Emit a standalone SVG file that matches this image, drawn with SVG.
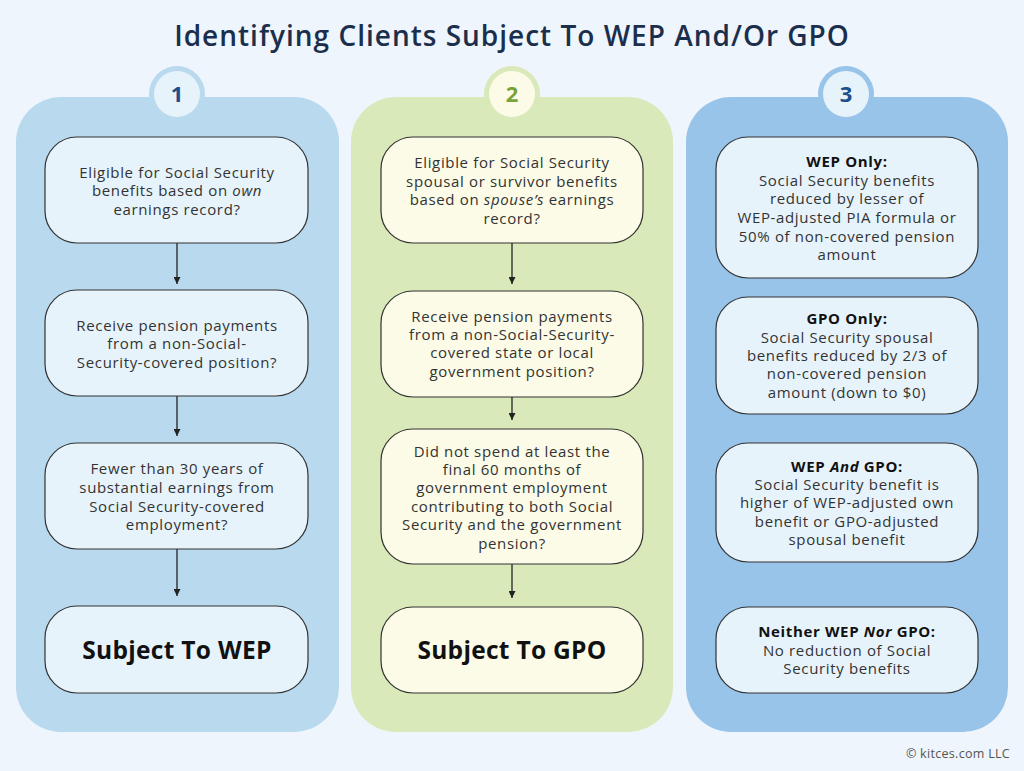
<svg xmlns="http://www.w3.org/2000/svg" width="1024" height="771" viewBox="0 0 1024 771">
<style>
.t{font-family:"Open Sans","Noto Sans",sans-serif;font-size:15px;letter-spacing:0.65px;fill:#333;text-anchor:middle}
.b{font-weight:700;fill:#111}
.big{font-family:"Open Sans","Noto Sans",sans-serif;font-size:24.5px;letter-spacing:0.3px;font-weight:700;fill:#111;text-anchor:middle}
.box1{fill:#e7f3fb;stroke:#333;stroke-width:1.2}
.box2{fill:#fbfbe7;stroke:#333;stroke-width:1.2}
.num{font-family:"Open Sans","Noto Sans",sans-serif;font-size:22px;font-weight:700;text-anchor:middle}
.con{stroke:#222;stroke-width:1.3;fill:none;marker-end:url(#ah)}
</style>
<defs>
<marker id="ah" viewBox="0 0 10 10" refX="10" refY="5" markerWidth="7" markerHeight="7" markerUnits="userSpaceOnUse" orient="auto"><path d="M0,0L10,5L0,10z" fill="#222"/></marker>
</defs>
<rect x="0" y="0" width="1024" height="771" fill="#eef5fc"/>
<text x="512" y="46" style="font-family:'Open Sans','Noto Sans',sans-serif;font-size:28px;letter-spacing:1px;font-weight:600;fill:#1b2f4d;text-anchor:middle">Identifying Clients Subject To WEP And/Or GPO</text>

<g id="panel1">
<rect x="16" y="97" width="323" height="635" rx="45" fill="#b8d9ee"/>
<circle cx="177" cy="94" r="28" fill="#b8d9ee"/>
<circle cx="177" cy="94" r="23" fill="#e7f3fb"/>
<text x="177" y="102" class="num" fill="#1d4e89">1</text>
</g>
<g id="panel2">
<rect x="351" y="97" width="322" height="635" rx="45" fill="#d9e9b9"/>
<circle cx="512" cy="94" r="28" fill="#d9e9b9"/>
<circle cx="512" cy="94" r="23" fill="#fbfbe7"/>
<text x="512" y="102" class="num" fill="#78a33a">2</text>
</g>
<g id="panel3">
<rect x="686" y="97" width="322" height="635" rx="45" fill="#98c4e9"/>
<circle cx="846" cy="94" r="28" fill="#98c4e9"/>
<circle cx="846" cy="94" r="23" fill="#e7f3fb"/>
<text x="846" y="102" class="num" fill="#1d4e89">3</text>
</g>

<g id="connectors">
<path class="con" d="M177,243V284"/>
<path class="con" d="M177,396V436"/>
<path class="con" d="M177,549V596"/>
<path class="con" d="M512,243V284"/>
<path class="con" d="M512,397V420"/>
<path class="con" d="M512,564V598"/>
</g>

<g id="n1a">
<rect class="box1" x="45" y="137" width="263" height="106" rx="32"/>
<text class="t"><tspan x="177" y="178">Eligible for Social Security</tspan><tspan x="177" y="196">benefits based on <tspan font-style="italic">own</tspan></tspan><tspan x="177" y="215">earnings record?</tspan></text>
</g>
<g id="n1b">
<rect class="box1" x="45" y="290" width="263" height="106" rx="32"/>
<text class="t"><tspan x="177" y="331">Receive pension payments</tspan><tspan x="177" y="349">from a non-Social-</tspan><tspan x="177" y="368">Security-covered position?</tspan></text>
</g>
<g id="n1c">
<rect class="box1" x="45" y="443" width="263" height="106" rx="32"/>
<text class="t"><tspan x="177" y="474">Fewer than 30 years of</tspan><tspan x="177" y="493">substantial earnings from</tspan><tspan x="177" y="512">Social Security-covered</tspan><tspan x="177" y="530">employment?</tspan></text>
</g>
<g id="n1d">
<rect class="box1" x="45" y="606" width="263" height="87" rx="32"/>
<text class="big" x="177" y="659">Subject To WEP</text>
</g>

<g id="n2a">
<rect class="box2" x="381" y="137" width="262" height="106" rx="32"/>
<text class="t"><tspan x="512" y="168">Eligible for Social Security</tspan><tspan x="512" y="187">spousal or survivor benefits</tspan><tspan x="512" y="205">based on <tspan font-style="italic">spouse’s</tspan> earnings</tspan><tspan x="512" y="224">record?</tspan></text>
</g>
<g id="n2b">
<rect class="box2" x="381" y="291" width="262" height="106" rx="32"/>
<text class="t"><tspan x="512" y="322">Receive pension payments</tspan><tspan x="512" y="340">from a non-Social-Security-</tspan><tspan x="512" y="358">covered state or local</tspan><tspan x="512" y="377">government position?</tspan></text>
</g>
<g id="n2c">
<rect class="box2" x="381" y="429" width="262" height="135" rx="32"/>
<text class="t"><tspan x="512" y="457">Did not spend at least the</tspan><tspan x="512" y="475">final 60 months of</tspan><tspan x="512" y="493">government employment</tspan><tspan x="512" y="512">contributing to both Social</tspan><tspan x="512" y="530">Security and the government</tspan><tspan x="512" y="549">pension?</tspan></text>
</g>
<g id="n2d">
<rect class="box2" x="381" y="607" width="262" height="86" rx="32"/>
<text class="big" x="512" y="659">Subject To GPO</text>
</g>

<g id="n3a">
<rect class="box1" x="716" y="137" width="262" height="141" rx="32"/>
<text class="t"><tspan x="847" y="167" class="b">WEP Only:</tspan><tspan x="847" y="186">Social Security benefits</tspan><tspan x="847" y="204">reduced by lesser of</tspan><tspan x="847" y="223">WEP-adjusted PIA formula or</tspan><tspan x="847" y="242">50% of non-covered pension</tspan><tspan x="847" y="260">amount</tspan></text>
</g>
<g id="n3b">
<rect class="box1" x="716" y="297" width="262" height="117" rx="32"/>
<text class="t"><tspan x="847" y="324" class="b">GPO Only:</tspan><tspan x="847" y="343">Social Security spousal</tspan><tspan x="847" y="361">benefits reduced by 2/3 of</tspan><tspan x="847" y="379">non-covered pension</tspan><tspan x="847" y="398">amount (down to $0)</tspan></text>
</g>
<g id="n3c">
<rect class="box1" x="716" y="443" width="262" height="119" rx="32"/>
<text class="t"><tspan x="847" y="472" class="b">WEP <tspan font-style="italic">And</tspan> GPO:</tspan><tspan x="847" y="490">Social Security benefit is</tspan><tspan x="847" y="508">higher of WEP-adjusted own</tspan><tspan x="847" y="527">benefit or GPO-adjusted</tspan><tspan x="847" y="545">spousal benefit</tspan></text>
</g>
<g id="n3d">
<rect class="box1" x="716" y="607" width="262" height="86" rx="32"/>
<text class="t"><tspan x="847" y="637" class="b">Neither WEP <tspan font-style="italic">Nor</tspan> GPO:</tspan><tspan x="847" y="656">No reduction of Social</tspan><tspan x="847" y="674">Security benefits</tspan></text>
</g>

<text x="1010" y="758" style="font-family:'Open Sans','Noto Sans',sans-serif;font-size:12.5px;letter-spacing:0.3px;fill:#555;text-anchor:end">© kitces.com LLC</text>
</svg>
